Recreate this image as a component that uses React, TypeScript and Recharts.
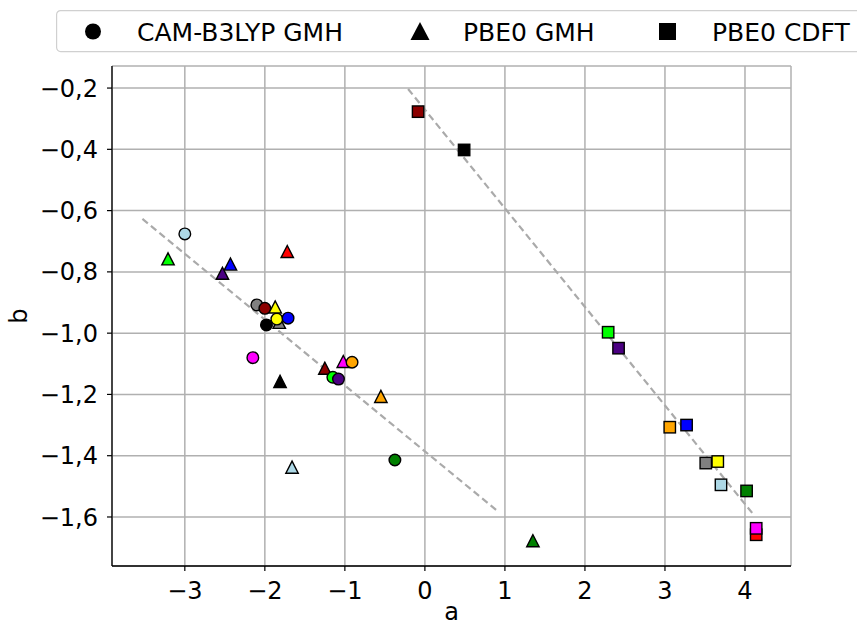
import { ScatterChart, Scatter, XAxis, YAxis, CartesianGrid, Label } from 'recharts';

// one colour per system, same order for all three methods
const colors = [
  '#add8e6', '#808080', '#8b0000', '#000000', '#ffff00', '#0000ff',
  '#00ff00', '#4b0082', '#ff0000', '#ff00ff', '#ffa500', '#008000',
];

const camA = [-3.0, -2.1, -2.0, -1.98, -1.85, -1.71, -1.15, -1.08, null, -2.15, -0.91, -0.375];
const camB = [-0.676, -0.908, -0.919, -0.973, -0.954, -0.951, -1.144, -1.15, null, -1.08, -1.095, -1.414];

const gmhA = [-1.66, -1.82, -1.25, -1.81, -1.87, -2.43, -3.21, -2.53, -1.72, -1.02, -0.55, 1.35];
const gmhB = [-1.438, -0.965, -1.115, -1.158, -0.915, -0.775, -0.758, -0.805, -0.734, -1.093, -1.207, -1.678];

const cdftA = [3.7, 3.51, -0.085, 0.49, 3.66, 3.27, 2.29, 2.42, 4.14, 4.14, 3.06, 4.02];
const cdftB = [-1.495, -1.424, -0.277, -0.402, -1.419, -1.3, -0.997, -1.049, -1.658, -1.637, -1.307, -1.515];

// fitted trend lines (end points)
const fitGmhA = [-3.53, 0.89];
const fitGmhB = [-0.627, -1.577];
const fitCdftA = [-0.21, 4.1];
const fitCdftB = [-0.203, -1.59];

const xTicks = [-3, -2, -1, 0, 1, 2, 3, 4];
const yTicks = [-1.6, -1.4, -1.2, -1.0, -0.8, -0.6, -0.4, -0.2];
const xDomain = [-3.91, 4.575];
const yDomain = [-1.76, -0.128];

const FONT = '"DejaVu Sans", sans-serif';
const TICK_FS = 24;
const LEG_FS = 25;

const seriesFor = (i: number) => {
  const pts: { a: number; b: number; kind: string; color: string }[] = [];
  if (camA[i] !== null) pts.push({ a: camA[i] as number, b: camB[i] as number, kind: 'circle', color: colors[i] });
  pts.push({ a: gmhA[i], b: gmhB[i], kind: 'triangle', color: colors[i] });
  pts.push({ a: cdftA[i], b: cdftB[i], kind: 'square', color: colors[i] });
  return pts;
};

const fitLine = (xs: number[], ys: number[]) => xs.map((a, i) => ({ a, b: ys[i] }));

function Marker(props: any) {
  const { cx, cy, payload } = props;
  const fill = payload.color;
  if (payload.kind === 'circle')
    return <circle cx={cx} cy={cy} r={5.8} fill={fill} stroke="#000" strokeWidth={1.4} />;
  if (payload.kind === 'square')
    return <rect x={cx - 5.7} y={cy - 5.7} width={11.4} height={11.4} fill={fill} stroke="#000" strokeWidth={1.4} />;
  return (
    <polygon
      points={`${cx},${cy - 6.2} ${cx - 6.2},${cy + 5.9} ${cx + 6.2},${cy + 5.9}`}
      fill={fill}
      stroke="#000"
      strokeWidth={1.4}
      strokeLinejoin="miter"
    />
  );
}

const fmtX = (v: number) => String(v).replace('-', '\u2212');
const fmtY = (v: number) => v.toFixed(1).replace('.', ',').replace('-', '\u2212');

function LegendBox() {
  return (
    <svg width={801} height={44} style={{ position: 'absolute', left: 56, top: 10 }}>
      <rect x={0.6} y={0.6} width={830} height={41} rx={4} fill="#fff" stroke="#d0d0d0" strokeWidth={1.2} />
      <circle cx={37} cy={21.5} r={8} fill="#000" />
      <text x={81} y={30.5} fontSize={LEG_FS} fontFamily={FONT}>CAM-B3LYP GMH</text>
      <polygon points="364,12 354.5,30 373.5,30" fill="#000" />
      <text x={407} y={30.5} fontSize={LEG_FS} fontFamily={FONT}>PBE0 GMH</text>
      <rect x={603} y={13} width={17} height={17} fill="#000" />
      <text x={656} y={30.5} fontSize={LEG_FS} fontFamily={FONT}>PBE0 CDFT</text>
    </svg>
  );
}

export default function App() {
  return (
    <div style={{ position: 'absolute', left: 0, top: 0, width: 857, height: 627, background: '#fff', fontFamily: FONT }}>
      <ScatterChart width={857} height={627} margin={{ top: 66, right: 66, left: 0, bottom: 0 }}>
        <CartesianGrid stroke="#b0b0b0" strokeWidth={1.5} />
        <XAxis
          dataKey="a"
          type="number"
          domain={xDomain}
          allowDataOverflow
          ticks={xTicks}
          tickFormatter={fmtX}
          height={61}
          tickSize={5}
          tickMargin={11}
          tick={{ fill: '#000', fontSize: TICK_FS, fontFamily: FONT }}
          tickLine={{ stroke: '#000', strokeWidth: 1.2 }}
          axisLine={{ stroke: '#000', strokeWidth: 1.3 }}
        >
          <Label value="a" position="insideBottom" offset={7} style={{ fill: '#000', fontSize: TICK_FS, fontFamily: FONT }} />
        </XAxis>
        <XAxis
          xAxisId="top"
          orientation="top"
          type="number"
          domain={xDomain}
          allowDataOverflow
          height={0}
          tick={false}
          tickLine={false}
          axisLine={{ stroke: '#000', strokeWidth: 1.3 }}
        />
        <YAxis
          dataKey="b"
          type="number"
          domain={yDomain}
          allowDataOverflow
          ticks={yTicks}
          tickFormatter={fmtY}
          width={112}
          tickSize={5}
          tickMargin={9}
          tick={{ fill: '#000', fontSize: TICK_FS, fontFamily: FONT }}
          tickLine={{ stroke: '#000', strokeWidth: 1.2 }}
          axisLine={{ stroke: '#000', strokeWidth: 1.3 }}
        >
          <Label
            content={() => (
              <text x={27} y={316} transform="rotate(-90 27 316)" textAnchor="middle" fontSize={TICK_FS} fontFamily={FONT} fill="#000">
                b
              </text>
            )}
          />
        </YAxis>
        <YAxis
          yAxisId="right"
          orientation="right"
          type="number"
          domain={yDomain}
          allowDataOverflow
          width={0}
          tick={false}
          tickLine={false}
          axisLine={{ stroke: '#000', strokeWidth: 1.3 }}
        />
        <Scatter
          data={fitLine(fitGmhA, fitGmhB)}
          line={{ stroke: '#aaaaaa', strokeWidth: 2.2, strokeDasharray: '7 4' }}
          shape={() => <g />}
          isAnimationActive={false}
        />
        <Scatter
          data={fitLine(fitCdftA, fitCdftB)}
          line={{ stroke: '#aaaaaa', strokeWidth: 2.2, strokeDasharray: '7 4' }}
          shape={() => <g />}
          isAnimationActive={false}
        />
        {colors.map((c, i) => (
          <Scatter key={c} data={seriesFor(i)} shape={Marker} isAnimationActive={false} />
        ))}
      </ScatterChart>
      <LegendBox />
    </div>
  );
}
